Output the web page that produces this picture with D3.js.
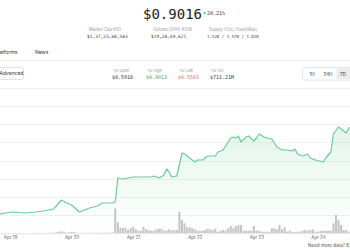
<!DOCTYPE html>
<html>
<head>
<meta charset="utf-8">
<script src="https://cdn.jsdelivr.net/npm/d3@7"></script>
<style>
  body { margin: 0; background: #fff; }
  text { font-family: "Inter", "Noto Sans", sans-serif; }
  .mono { font-family: "DejaVu Sans Mono", monospace; }
</style>
</head>
<body>
<script>
// hours since Apr 19 00:00 and price (USD)
const priceHour = [-4, 1, 6, 10, 13, 17, 20, 22, 24, 27, 29, 31, 34, 36, 40, 41,
  42, 44, 46, 48, 51, 55, 56, 58, 60, 61, 62, 63, 65,
  67, 68, 70, 72, 73, 75, 77, 80, 81, 83, 84, 86, 87, 88, 89, 90, 92, 93, 95, 96, 97,
  99, 100, 102, 104, 106, 108, 110, 111, 112, 114, 116, 117, 119, 122, 123, 125, 126,
  128, 130, 131, 132, 133];
const price = [0.5503, 0.5584, 0.5543, 0.5584, 0.5624, 0.5705, 0.6068, 0.5947, 0.5866, 0.5584, 0.5664, 0.5745, 0.5826, 0.5947, 0.5947, 0.5987,
  0.6955, 0.6915, 0.6955, 0.6996, 0.6996, 0.6996, 0.7036, 0.6955, 0.7076, 0.7318, 0.7197, 0.6996, 0.7036,
  0.7964, 0.7923, 0.7762, 0.7601, 0.7681, 0.7681, 0.7843, 0.7843, 0.8004, 0.8085, 0.8246, 0.8569, 0.8609, 0.8569, 0.8650, 0.8407, 0.8609, 0.8650, 0.8448, 0.8569, 0.8730,
  0.8609, 0.8569, 0.8529, 0.8206, 0.8085, 0.8085, 0.8044, 0.8125, 0.7923, 0.7843, 0.7923, 0.7762, 0.7681, 0.7601, 0.7762, 0.8004, 0.8730,
  0.9013, 0.8851, 0.8771, 0.8972, 0.9016];

// hourly volume (USD millions), first bar at hour -4
const volumeStartHour = -4;
const volume = [0.6, 0.5, 0.7, 0.6, 0.5, 0.6, 0.8, 0.7, 0.6, 0.5, 0.6, 0.7, 0.5, 0.6, 0.8, 0.9, 0.7, 0.6, 0.8, 0.9, 1.0, 1.2,
  2.0, 3.2, 4.0, 3.2, 1.6, 2.0, 3.2, 2.6, 1.2,
  0.9, 0.8, 1.0, 0.8, 0.9, 1.1, 1.0, 0.9, 1.2, 1.0, 1.1, 1.3, 1.2, 1.4,
  50, 22, 11, 11, 11, 6.6, 10, 13, 8, 5.2, 5.2, 13, 8, 6.6, 5.2, 5.2, 8, 9.2, 9.2, 5.2, 6, 8, 6, 6.6, 6.6,
  43, 26.6, 20, 12, 12, 10, 8, 5.2, 5.2, 5.2, 6.6, 9.2, 8, 6.6, 9.2, 3.2, 5.2, 6.6, 5.2, 10,
  14.6, 10, 14.6, 16.6, 16.6, 5.2, 5.2, 5.2, 5.2, 14.6, 5.2, 5.2, 3.2, 3.2, 3.2, 3.2,
  10, 10, 8, 16.6, 8, 12, 3.2, 5.2, 2.6, 2.6, 3.2, 3.2, 5.2, 6.6, 5.2, 6.6, 8, 3.2, 3.2,
  5.2, 5.2, 5.2, 5.2, 5.2, 20, 36.6, 26.6, 16.6, 6.6, 6.6, 3.2];

const dayTicks = ["Apr 19", "Apr 20", "Apr 21", "Apr 22", "Apr 23", "Apr 24"];

const stats = [
  { label: "Market Cap #93", value: "$1,37,23,68,583" },
  { label: "Volume (24H) #208", value: "$19,28,69,621" },
  { label: "Supply (Circ./Total/Max)", value: "1.52B / 1.57B / 1.82B" }
];
const range7d = [
  { label: "7D Open", value: "$0.5918", color: "#333" },
  { label: "7D High", value: "$0.9013", color: "#3fa55a" },
  { label: "7D Low", value: "$0.5503", color: "#e06c6c" },
  { label: "7D Vol.", value: "$711.21M", color: "#333" }
];
const periods = ["1H", "24H", "7D"];

const width = 350, height = 250;
const t0 = new Date(2024, 3, 19);
const atHour = h => d3.timeHour.offset(t0, h);

const svg = d3.select("body").append("svg")
  .attr("width", width)
  .attr("height", height);

// header
svg.append("text").attr("class", "mono")
  .attr("x", 143).attr("y", 18.5)
  .style("font-size", "14px").attr("fill", "#222")
  .text("$0.9016");
svg.append("circle").attr("cx", 204.5).attr("cy", 13).attr("r", 1.1).attr("fill", "#3fbf6f");
svg.append("text").attr("class", "mono")
  .attr("x", 207).attr("y", 14.8)
  .style("font-size", "5px").attr("fill", "#333")
  .text("20.21%");

const statX = [88, 152, 208];
stats.forEach((s, i) => {
  svg.append("text").attr("x", statX[i] + 1).attr("y", 30.5)
    .style("font-size", "4.2px").attr("fill", "#999").text(s.label);
  svg.append("text").attr("class", "mono").attr("x", statX[i] - 1).attr("y", 37.5)
    .style("font-size", i == 2 ? "4.1px" : "4.5px").attr("fill", "#444").text(s.value);
});

// tabs
svg.append("text").attr("x", 17.5).attr("y", 53.5).attr("text-anchor", "end")
  .style("font-size", "5px").attr("fill", "#333").text("Platforms");
svg.append("text").attr("x", 35).attr("y", 53.5)
  .style("font-size", "5px").attr("fill", "#333").text("News");
svg.append("line").attr("x1", 0).attr("x2", width).attr("y1", 60.5).attr("y2", 60.5)
  .attr("stroke", "#ededed");

// controls row
svg.append("rect").attr("x", -10).attr("y", 67.5).attr("width", 33.5).attr("height", 12)
  .attr("rx", 2).attr("fill", "#fff").attr("stroke", "#e2e2e2");
svg.append("text").attr("x", -0.5).attr("y", 75.3)
  .style("font-size", "5px").attr("fill", "#333").text("Advanced");

const rangeX = [112, 146, 178, 210];
range7d.forEach((r, i) => {
  svg.append("text").attr("x", rangeX[i] + 1).attr("y", 71.5)
    .style("font-size", "4px").attr("fill", "#999").text(r.label);
  svg.append("text").attr("class", "mono").attr("x", rangeX[i]).attr("y", 78.5)
    .style("font-size", "5px").attr("fill", r.color).text(r.value);
});

svg.append("rect").attr("x", 302.5).attr("y", 67.5).attr("width", 60).attr("height", 12.5)
  .attr("rx", 2).attr("fill", "#fff").attr("stroke", "#e4e4e4");
svg.append("rect").attr("x", 336.5).attr("y", 68.5).attr("width", 20).attr("height", 10.5)
  .attr("rx", 1.5).attr("fill", "#ececec");
const periodX = [312, 328, 343];
periods.forEach((p, i) => {
  svg.append("text").attr("x", periodX[i]).attr("y", 75.6).attr("text-anchor", "middle")
    .style("font-size", "4.5px").attr("fill", "#333").text(p);
});

// chart
const x = d3.scaleTime()
  .domain([atHour(0), atHour(120)])
  .range([10, 318]);
const plotTop = 87.7, plotBottom = 233.3;
const grid = d3.scaleLinear().domain([0, 8]).range([plotBottom, plotTop]);
const y = d3.scaleLinear().domain([0.5503, 0.9013]).range([214, 127]);
const yVol = d3.scaleLinear().domain([0, 100]).range([plotBottom, plotBottom - 50]);

svg.append("g").selectAll("line")
  .data(grid.ticks(8).slice(1))
  .enter().append("line")
  .attr("x1", 0).attr("x2", width)
  .attr("y1", d => Math.round(grid(d)) + 0.5)
  .attr("y2", d => Math.round(grid(d)) + 0.5)
  .attr("stroke", "#f1f1f1");

const pts = priceHour.map((h, i) => ({ t: atHour(h), v: price[i] }));

const defs = svg.append("defs");
const grad = defs.append("linearGradient").attr("id", "fade")
  .attr("x1", 0).attr("y1", 0).attr("x2", 0).attr("y2", 1);
grad.append("stop").attr("offset", "0%").attr("stop-color", "#7fd3a3").attr("stop-opacity", 0.22);
grad.append("stop").attr("offset", "100%").attr("stop-color", "#7fd3a3").attr("stop-opacity", 0);

svg.append("path").datum(pts)
  .attr("fill", "url(#fade)")
  .attr("d", d3.area().x(d => x(d.t)).y0(plotBottom).y1(d => y(d.v)));

// volume bars
svg.append("g").selectAll("rect")
  .data(volume)
  .enter().append("rect")
  .attr("x", (d, i) => x(atHour(volumeStartHour + i)) - 1)
  .attr("width", 2)
  .attr("y", d => yVol(d))
  .attr("height", d => plotBottom - yVol(d))
  .attr("fill", "#c4c4c4");

svg.append("path").datum(pts)
  .attr("fill", "none")
  .attr("stroke", "#6ecb98")
  .attr("stroke-width", 1.2)
  .attr("stroke-linejoin", "round")
  .attr("d", d3.line().x(d => x(d.t)).y(d => y(d.v)));

// x axis
const xAxis = d3.axisBottom(x)
  .tickValues(dayTicks.map((d, i) => atHour(24 * i)))
  .tickFormat((d, i) => dayTicks[i])
  .tickSize(0)
  .tickPadding(3);
const ax = svg.append("g")
  .attr("transform", `translate(0,${plotBottom})`)
  .call(xAxis);
ax.select(".domain").remove();
ax.selectAll("text").style("font-size", "4.5px").attr("fill", "#666")
  .style("font-family", "Inter, 'Noto Sans', sans-serif");
svg.append("line").attr("x1", 0).attr("x2", width)
  .attr("y1", plotBottom + 0.5).attr("y2", plotBottom + 0.5)
  .attr("stroke", "#e6e6e6");

// footer
const need = svg.append("text").attr("x", 308).attr("y", 246.5)
  .style("font-size", "4.6px").attr("fill", "#555").text("Need more data?");
const needEnd = 308 + need.node().getComputedTextLength();
svg.append("text").attr("x", needEnd + 1.2).attr("y", 246.5)
  .style("font-size", "4.6px").style("font-weight", "bold").attr("fill", "#2e9e4f").text("Explore");
</script>
</body>
</html>
